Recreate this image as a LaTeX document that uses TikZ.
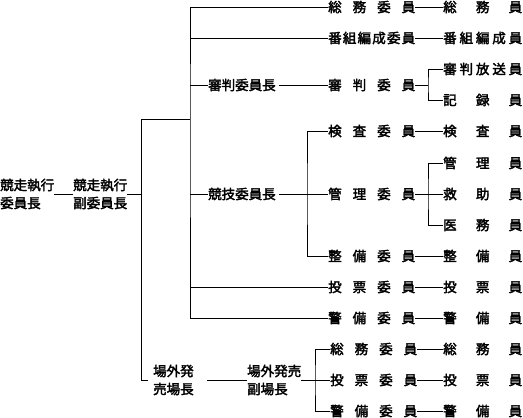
\documentclass[tikz,border=0pt]{standalone}
\usepackage{fontspec}
\newfontfamily\jpfont{Noto Sans CJK JP}[AutoFakeBold=2.5]
\usetikzlibrary{calc}
\newcommand\orgfont{\fontsize{13.5pt}{18pt}\selectfont\jpfont\bfseries}
\newcommand\colb[1]{\makebox[87pt][s]{#1}}
\newcommand\colc[1]{\makebox[79pt][s]{#1}}
\tikzset{
  org/.style={inner sep=0pt, anchor=west, font=\orgfont},
  two/.style={org, align=left},
  link/.style={line width=0.9pt, draw=black},
  gap/.style={shorten <=#1},
  gap/.default=3pt
}

\begin{document}
\begin{tikzpicture}[x=1pt, y=-1pt]
  \useasboundingbox (0,0) rectangle (523,418);
  % head
  \node[two] (top) at (0,194) {競走執行\\委員長};
  \node[two] (vice) at (73,194) {競走執行\\副委員長};
  \coordinate (t1) at (141,119);
  \coordinate (k) at (190,119);
  % committees
  \node[org] (r1) at (328,7) {\colb{総\hfill 務\hfill 委\hfill 員}};
  \node[org] (r2) at (328,38) {\colb{番\hfill 組\hfill 編\hfill 成\hfill 委\hfill 員}};
  \node[org] (shc) at (208,85) {審判委員長};
  \node[org] (r3) at (328,85) {\colb{審\hfill 判\hfill 委\hfill 員}};
  \node[org] (gic) at (208,194) {競技委員長};
  \node[org] (r4) at (328,131) {\colb{検\hfill 査\hfill 委\hfill 員}};
  \node[org] (r5) at (328,194) {\colb{管\hfill 理\hfill 委\hfill 員}};
  \node[org] (r6) at (328,256) {\colb{整\hfill 備\hfill 委\hfill 員}};
  \node[org] (r7) at (328,287) {\colb{投\hfill 票\hfill 委\hfill 員}};
  \node[org] (r8) at (328,318) {\colb{警\hfill 備\hfill 委\hfill 員}};
  % members
  \node[org] (s1) at (443,7) {\colc{総\hfill 務\hfill 員}};
  \node[org] (s2) at (443,38) {\colc{番\hfill 組\hfill 編\hfill 成\hfill 員}};
  \node[org] (s3a) at (443,69) {\colc{審\hfill 判\hfill 放\hfill 送\hfill 員}};
  \node[org] (s3b) at (443,100) {\colc{記\hfill 録\hfill 員}};
  \node[org] (s4) at (443,131) {\colc{検\hfill 査\hfill 員}};
  \node[org] (s5a) at (443,163) {\colc{管\hfill 理\hfill 員}};
  \node[org] (s5b) at (443,194) {\colc{救\hfill 助\hfill 員}};
  \node[org] (s5c) at (443,225) {\colc{医\hfill 務\hfill 員}};
  \node[org] (s6) at (443,256) {\colc{整\hfill 備\hfill 員}};
  \node[org] (s7) at (443,287) {\colc{投\hfill 票\hfill 員}};
  \node[org] (s8) at (443,318) {\colc{警\hfill 備\hfill 員}};
  % off-site sales
  \node[two] (jo) at (153,380) {場外発\\売場長};
  \node[two] (jov) at (247,380) {場外発売\\副場長};
  \node[org] (r9) at (330,349) {\colb{総\hfill 務\hfill 委\hfill 員}};
  \node[org] (r10) at (330,380) {\colb{投\hfill 票\hfill 委\hfill 員}};
  \node[org] (r11) at (330,411) {\colb{警\hfill 備\hfill 委\hfill 員}};
  \node[org] (s9) at (443,349) {\colc{総\hfill 務\hfill 員}};
  \node[org] (s10) at (443,380) {\colc{投\hfill 票\hfill 員}};
  \node[org] (s11) at (443,411) {\colc{警\hfill 備\hfill 員}};
  \coordinate (j3) at (428,85);
  \coordinate (j4) at (307,194);
  \coordinate (j5) at (428,194);
  \coordinate (j9) at (315,380);

  \draw[link] (top) -- (vice);
  \draw[link] (vice.east) -- (vice.east -| t1);
  \draw[link] ([xshift=-5pt]jo.west) -| (t1) -- (k);
  \draw[link] (r1.west) -| (k) |- (r8.west);
  \foreach \n in {r2,shc,gic,r7}
    \draw[link] (\n.west) -- (\n.west -| k);
  \draw[link,gap] (shc) -- (r3);
  \draw[link,gap] (gic) -- (r5);
  \draw[link] (r4.west) -| (j4) |- (r6.west);
  \draw[link] (r3.east) -- (j3);
  \draw[link] (s3a.west) -| (j3) |- (s3b.west);
  \draw[link] (r5) -- (s5b);
  \draw[link] (s5a.west) -| (j5) |- (s5c.west);
  \foreach \a/\b in {r1/s1,r2/s2,r4/s4,r6/s6,r7/s7,r8/s8,r9/s9,r10/s10,r11/s11}
    \draw[link] (\a) -- (\b);
  \draw[link,gap=13pt] (jo) -- (jov);
  \draw[link] (jov.east) -- (j9);
  \draw[link] (r9.west) -| (j9) |- (r11.west);
  \draw[link] (j9) -- (r10.west);
\end{tikzpicture}
\end{document}
